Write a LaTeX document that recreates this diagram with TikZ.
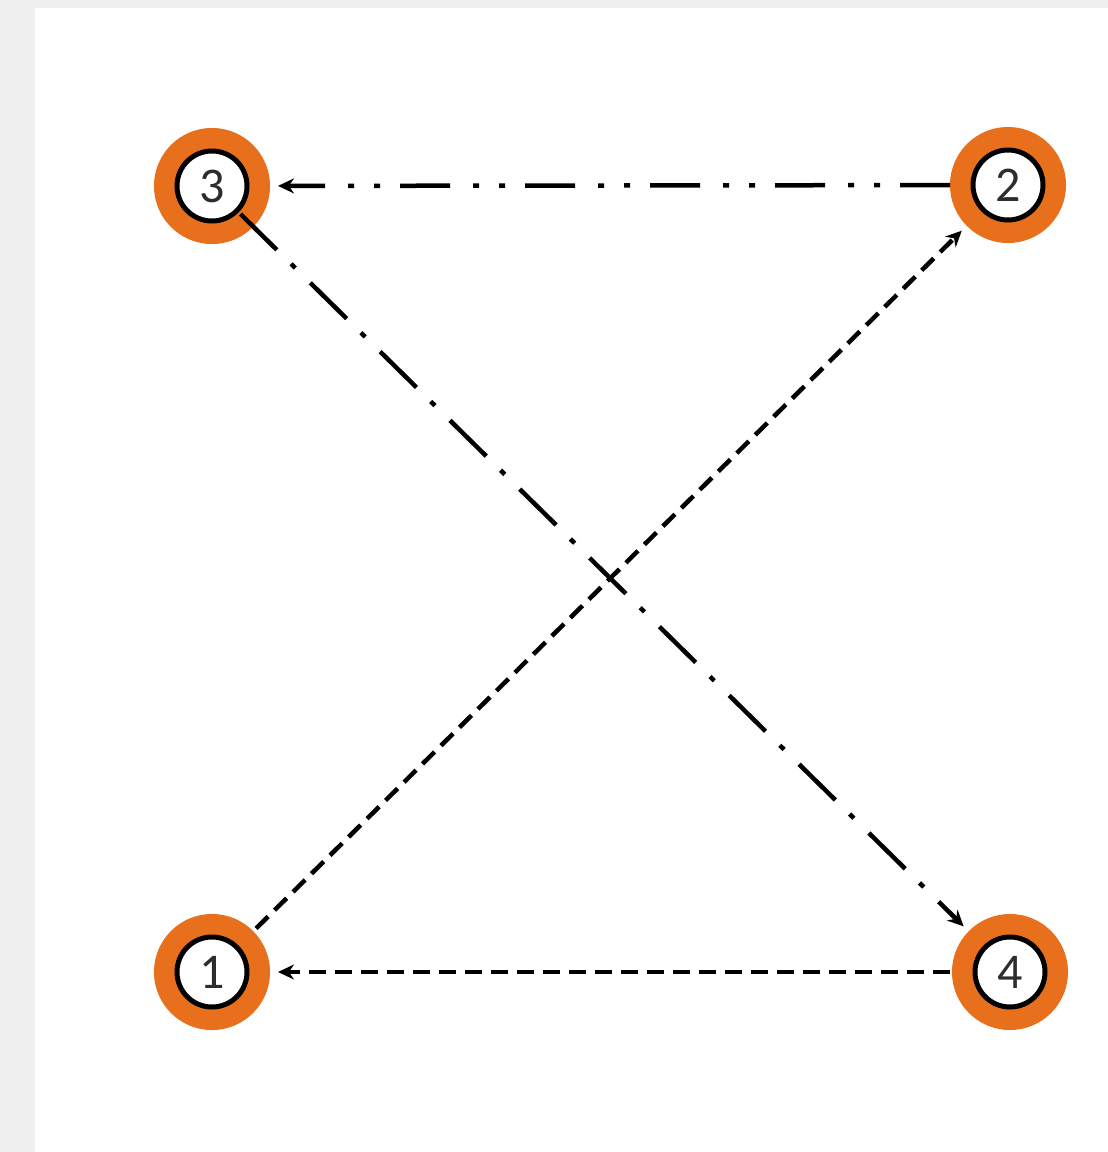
\documentclass[tikz,border=0pt]{standalone}
\usepackage{fontspec}
\setmainfont{Carlito}
\usetikzlibrary{arrows.meta}
\definecolor{ringorange}{RGB}{232,112,28}
\definecolor{pagegray}{RGB}{240,240,240}
\definecolor{digitgray}{RGB}{45,45,45}
\tikzset{
  ring/.style={circle, draw=black, line width=5pt, fill=white, minimum size=70pt,
    inner sep=0pt, outer sep=23pt, text=digitgray, font=\fontsize{50}{50}\selectfont,
    preaction={draw=ringorange, line width=46pt}},
  conn/.style={line width=4.5pt, black, -{Stealth[length=16pt,width=15pt]}},
  dashdotdot/.style={dash pattern=on 50pt off 20pt on 6pt off 20pt on 6pt off 23pt},
  dashdotone/.style={dash pattern=on 51pt off 20pt on 6pt off 21pt},
  shortdash/.style={dash pattern=on 17pt off 9pt}
}
\begin{document}
\begin{tikzpicture}[x=1pt,y=-1pt]
  \useasboundingbox (0,0) rectangle (1108,1152);
  \fill[pagegray] (0,0) rectangle (1108,1152);
  \fill[white] (35,8) rectangle (1108,1152);
  \node[ring] (n3) at (212,186) {3};
  \node[ring] (n2) at (1008,185) {2};
  \node[ring] (n1) at (212,972) {1};
  \node[ring] (n4) at (1010,972) {4};
  \draw[conn, dashdotdot, shorten >=8pt] (n2) -- (n3);
  \draw[conn, dashdotone, shorten <=-18pt, shorten >=7pt] (n3) -- (n4);
  \draw[conn, shortdash, shorten <=4pt, shorten >=7pt] (n1) -- (n2);
  \draw[conn, shortdash, shorten <=2pt, shorten >=8pt] (n4) -- (n1);
\end{tikzpicture}
\end{document}
